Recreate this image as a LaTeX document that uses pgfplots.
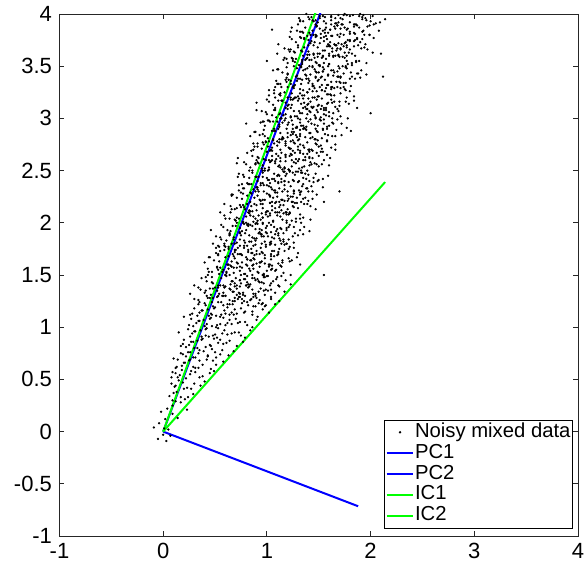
\documentclass[border=0pt]{standalone}
\usepackage{fontspec}
\setmainfont{Liberation Sans}
\usepackage{pgfplots}
\pgfplotsset{compat=1.18}
\definecolor{axgray}{rgb}{0.15,0.15,0.15}
\pgfplotsset{lineleg/.style={legend image code/.code={\draw[##1] (0pt,0pt) -- (20pt,0pt);}},
  dotleg/.style={legend image code/.code={\fill[black] (10pt,0pt) circle (0.65pt);}},
  dots/.style={only marks, mark=*, mark size=0.65pt, mark options={draw=none, fill=black}}}
\begin{document}
\begin{tikzpicture}
\begin{axis}[
  scale only axis, width=388.9pt, height=391.5pt,
  xmin=-1, xmax=4, ymin=-1, ymax=4,
  xtick={-1,0,1,2,3,4},
  ytick={-1,-0.5,0,0.5,1,1.5,2,2.5,3,3.5,4},
  yticklabels={-1,-0.5,0,0.5,1,1.5,2,2.5,3,3.5,4},
  xticklabels={-1,0,1,2,3,4},
  tick align=inside, major tick length=3.75pt,
  axis line style={color=axgray, line width=0.6pt},
  every tick/.style={color=axgray, line width=0.6pt},
  ticklabel style={font=\fontsize{16.5}{18}\selectfont, color=black, inner sep=1pt},
  yticklabel style={xshift=-4.5pt},
  xticklabel style={yshift=-4.5pt},
  legend cell align=left,
  legend style={at={(rel axis cs:0.990,0.015)}, anchor=south east, draw=black, line width=0.5pt,
    inner sep=1pt, font=\fontsize{15.2}{15.2}\selectfont, row sep=0pt,
    nodes={inner sep=0.5pt, text height=11pt, text depth=3.7pt}},
]
\addplot[dots, dotleg] coordinates {
(0.01,0.03) (-0.04,0.08) (0.05,0.02) (-0.05,-0.07) (0.03,-0.09) (0.07,-0.04) (-0.09,0.04) (0.00,-0.03)
(0.02,0.12) (0.09,0.17) (-0.02,0.19) (0.14,0.13)
(0.04,0.22) (0.17,0.28) (0.09,0.25) (0.23,0.21) (0.12,0.29)
(0.06,0.34) (0.21,0.31) (0.13,0.38) (0.29,0.36) (0.17,0.33) (0.09,0.30)
(0.11,0.43) (0.27,0.41) (0.19,0.47) (0.36,0.44) (0.15,0.49) (0.23,0.42) (0.40,0.48) (0.08,0.46)
(0.14,0.52) (0.31,0.57) (0.22,0.51) (0.45,0.56) (0.18,0.59) (0.38,0.53) (0.26,0.55) (0.49,0.58) (0.12,0.56)
(0.18,0.63) (0.34,0.61) (0.25,0.68) (0.51,0.64) (0.42,0.69) (0.21,0.66) (0.58,0.67) (0.29,0.62) (0.46,0.60) (0.14,0.69)
(0.22,0.72) (0.39,0.77) (0.31,0.71) (0.55,0.74) (0.47,0.79) (0.26,0.76) (0.63,0.73) (0.35,0.78) (0.68,0.77) (0.19,0.74) (0.43,0.72) (0.51,0.71)
(0.25,0.83) (0.41,0.81) (0.33,0.87) (0.58,0.84) (0.49,0.89) (0.29,0.86) (0.71,0.82) (0.37,0.88) (0.64,0.87) (0.22,0.81) (0.53,0.85) (0.45,0.83) (0.77,0.86)
(0.28,0.94) (0.44,0.91) (0.36,0.97) (0.62,0.93) (0.53,0.99) (0.31,0.96) (0.75,0.92) (0.41,0.98) (0.69,0.95) (0.26,0.91) (0.57,0.94) (0.48,0.92) (0.84,0.97) (0.79,0.90)
(0.32,1.04) (0.47,1.01) (0.39,1.07) (0.66,1.03) (0.58,1.09) (0.35,1.06) (0.81,1.02) (0.45,1.08) (0.74,1.05) (0.29,1.01) (0.62,1.04) (0.52,1.02) (0.90,1.07) (0.86,1.00) (0.42,1.03) (0.70,1.08)
(0.35,1.14) (0.51,1.11) (0.43,1.17) (0.71,1.13) (0.62,1.19) (0.38,1.16) (0.86,1.12) (0.49,1.18) (0.79,1.15) (0.33,1.11) (0.66,1.14) (0.56,1.12) (0.96,1.17) (0.91,1.10) (0.46,1.13) (0.75,1.18) (1.02,1.14) (0.59,1.16)
(0.41,1.21) (0.85,1.27) (0.56,1.24) (1.04,1.29) (0.67,1.22) (0.93,1.26) (0.48,1.28) (0.76,1.23) (1.12,1.25) (0.60,1.30) (0.89,1.20) (0.72,1.27) (0.99,1.21) (0.45,1.28) (0.81,1.24) (0.64,1.26) (1.08,1.22) (0.52,1.29) (0.96,1.23) (0.78,1.25) (0.69,1.28) (0.87,1.20)
(0.53,1.38) (0.77,1.33) (1.03,1.40) (0.46,1.31) (0.86,1.36) (0.68,1.34) (1.12,1.39) (0.60,1.30) (0.94,1.37) (0.74,1.32) (0.41,1.35) (0.83,1.39) (1.08,1.33) (0.65,1.36) (0.98,1.31) (0.50,1.38) (0.80,1.40) (1.17,1.34) (0.71,1.37) (0.89,1.32) (0.57,1.30) (1.01,1.35)
(0.66,1.44) (1.01,1.49) (0.53,1.40) (0.86,1.47) (1.18,1.45) (0.75,1.42) (0.60,1.50) (1.09,1.46) (0.82,1.41) (0.47,1.48) (0.95,1.43) (0.71,1.40) (1.14,1.49) (0.89,1.45) (0.56,1.47) (1.04,1.42) (0.78,1.46) (0.92,1.44) (0.64,1.50) (1.23,1.41) (0.98,1.48) (0.81,1.43)
(0.54,1.51) (0.76,1.57) (1.00,1.54) (0.65,1.59) (1.16,1.52) (0.87,1.56) (0.93,1.58) (0.61,1.53) (1.09,1.55) (0.80,1.60) (1.23,1.50) (0.71,1.57) (0.97,1.51) (0.52,1.58) (0.84,1.54) (1.05,1.56) (0.68,1.52) (1.13,1.59) (0.91,1.53) (0.58,1.55) (1.02,1.58) (0.75,1.50)
(0.68,1.68) (0.95,1.63) (0.53,1.70) (1.11,1.61) (0.87,1.66) (1.24,1.64) (0.76,1.69) (1.02,1.60) (0.60,1.67) (1.15,1.62) (0.81,1.65) (0.98,1.69) (0.66,1.63) (1.21,1.66) (0.90,1.61) (1.07,1.68) (0.72,1.70) (0.85,1.64) (1.29,1.67) (0.94,1.62) (0.63,1.60) (1.04,1.65)
(0.59,1.74) (1.03,1.79) (0.74,1.70) (1.22,1.77) (0.85,1.75) (1.11,1.72) (0.66,1.80) (0.94,1.76) (1.30,1.71) (0.78,1.78) (1.07,1.73) (0.90,1.70) (1.17,1.79) (0.63,1.75) (0.99,1.77) (0.82,1.72) (1.26,1.76) (0.70,1.74) (1.14,1.80) (0.96,1.71) (0.87,1.78) (1.05,1.73)
(0.71,1.81) (0.95,1.87) (1.21,1.84) (0.64,1.89) (1.04,1.82) (0.86,1.86) (1.30,1.88) (0.78,1.83) (1.12,1.85) (0.92,1.90) (0.59,1.80) (1.01,1.87) (1.26,1.81) (0.83,1.88) (1.16,1.84) (0.68,1.86) (0.98,1.82) (1.35,1.89) (0.89,1.83) (1.07,1.85) (0.75,1.88) (1.19,1.80)
(0.84,1.98) (1.19,1.93) (0.71,2.00) (1.04,1.91) (1.36,1.96) (0.93,1.94) (0.78,1.99) (1.27,1.90) (1.00,1.97) (0.65,1.92) (1.13,1.95) (0.89,1.99) (1.32,1.93) (1.07,1.96) (0.74,1.91) (1.22,1.98) (0.96,2.00) (1.10,1.94) (0.82,1.97) (1.41,1.92) (1.16,1.90) (0.99,1.95)
(0.73,2.04) (0.95,2.09) (1.19,2.00) (0.84,2.07) (1.35,2.05) (1.06,2.02) (1.12,2.10) (0.80,2.06) (1.28,2.01) (0.99,2.08) (1.42,2.03) (0.90,2.00) (1.16,2.09) (0.71,2.05) (1.03,2.07) (1.24,2.02) (0.87,2.06) (1.32,2.04) (1.10,2.10) (0.77,2.01) (1.21,2.08) (0.94,2.03)
(0.86,2.11) (1.13,2.17) (0.71,2.14) (1.29,2.19) (1.05,2.12) (1.42,2.16) (0.94,2.18) (1.20,2.13) (0.78,2.15) (1.33,2.20) (0.99,2.10) (1.16,2.17) (0.84,2.11) (1.39,2.18) (1.08,2.14) (1.25,2.16) (0.90,2.12) (1.03,2.19) (1.47,2.13) (1.12,2.15) (0.81,2.18) (1.22,2.10)
(0.77,2.28) (1.21,2.23) (0.92,2.30) (1.40,2.21) (1.03,2.26) (1.29,2.24) (0.84,2.29) (1.12,2.20) (1.48,2.27) (0.96,2.22) (1.25,2.25) (1.08,2.29) (1.35,2.23) (0.81,2.26) (1.17,2.21) (1.00,2.28) (1.44,2.30) (0.88,2.24) (1.32,2.27) (1.14,2.22) (1.05,2.20) (1.23,2.25)
(0.90,2.34) (1.14,2.39) (1.40,2.30) (0.83,2.37) (1.23,2.35) (1.05,2.32) (1.49,2.40) (0.97,2.36) (1.31,2.31) (1.11,2.38) (0.78,2.33) (1.20,2.30) (1.45,2.39) (1.02,2.35) (1.35,2.37) (0.87,2.32) (1.17,2.36) (1.54,2.34) (1.08,2.40) (1.26,2.31) (0.94,2.38) (1.38,2.33)
(1.02,2.41) (1.37,2.47) (0.89,2.44) (1.22,2.49) (1.54,2.42) (1.11,2.46) (0.96,2.48) (1.45,2.43) (1.18,2.45) (0.83,2.50) (1.31,2.40) (1.07,2.47) (1.50,2.41) (1.25,2.48) (0.92,2.44) (1.40,2.46) (1.14,2.42) (1.28,2.49) (1.00,2.43) (1.59,2.45) (1.34,2.48) (1.17,2.40)
(0.91,2.58) (1.13,2.53) (1.37,2.60) (1.02,2.51) (1.53,2.56) (1.24,2.54) (1.30,2.59) (0.98,2.50) (1.46,2.57) (1.17,2.52) (1.60,2.55) (1.08,2.59) (1.34,2.53) (0.89,2.56) (1.21,2.51) (1.42,2.58) (1.05,2.60) (1.50,2.54) (1.28,2.57) (0.95,2.52) (1.39,2.50) (1.12,2.55)
(1.05,2.64) (1.32,2.69) (0.90,2.60) (1.48,2.67) (1.24,2.65) (1.61,2.62) (1.13,2.70) (1.39,2.66) (0.97,2.61) (1.52,2.68) (1.18,2.63) (1.35,2.60) (1.03,2.69) (1.58,2.65) (1.27,2.67) (1.44,2.62) (1.09,2.66) (1.22,2.64) (1.66,2.70) (1.31,2.61) (1.00,2.68) (1.41,2.63)
(0.95,2.71) (1.39,2.77) (1.10,2.74) (1.58,2.79) (1.21,2.72) (1.47,2.76) (1.02,2.78) (1.30,2.73) (1.66,2.75) (1.14,2.80) (1.43,2.70) (1.26,2.77) (1.53,2.71) (0.99,2.78) (1.35,2.74) (1.18,2.76) (1.62,2.72) (1.06,2.79) (1.50,2.73) (1.32,2.75) (1.23,2.78) (1.41,2.70)
(1.08,2.88) (1.32,2.83) (1.58,2.90) (1.01,2.81) (1.41,2.86) (1.23,2.84) (1.67,2.89) (1.15,2.80) (1.49,2.87) (1.29,2.82) (0.96,2.85) (1.38,2.89) (1.63,2.83) (1.20,2.86) (1.53,2.81) (1.05,2.88) (1.35,2.90) (1.72,2.84) (1.26,2.87) (1.44,2.82) (1.12,2.80) (1.56,2.85)
(1.20,2.94) (1.55,2.99) (1.07,2.90) (1.40,2.97) (1.72,2.95) (1.29,2.92) (1.14,3.00) (1.63,2.96) (1.36,2.91) (1.01,2.98) (1.49,2.93) (1.25,2.90) (1.68,2.99) (1.43,2.95) (1.10,2.97) (1.58,2.92) (1.32,2.96) (1.46,2.94) (1.18,3.00) (1.77,2.91) (1.52,2.98) (1.35,2.93)
(1.09,3.01) (1.31,3.07) (1.55,3.04) (1.20,3.09) (1.71,3.02) (1.42,3.06) (1.48,3.08) (1.16,3.03) (1.64,3.05) (1.35,3.10) (1.78,3.00) (1.26,3.07) (1.52,3.01) (1.07,3.08) (1.39,3.04) (1.60,3.06) (1.23,3.02) (1.68,3.09) (1.46,3.03) (1.13,3.05) (1.57,3.08) (1.30,3.00)
(1.23,3.18) (1.50,3.13) (1.08,3.20) (1.66,3.11) (1.42,3.16) (1.79,3.14) (1.31,3.19) (1.57,3.10) (1.15,3.17) (1.70,3.12) (1.36,3.15) (1.53,3.19) (1.21,3.13) (1.76,3.16) (1.45,3.11) (1.62,3.18) (1.27,3.20) (1.40,3.14) (1.84,3.17) (1.49,3.12) (1.18,3.10) (1.59,3.15)
(1.13,3.24) (1.57,3.29) (1.28,3.20) (1.76,3.27) (1.39,3.25) (1.65,3.22) (1.20,3.30) (1.48,3.26) (1.84,3.21) (1.32,3.28) (1.61,3.23) (1.44,3.20) (1.71,3.29) (1.17,3.25) (1.53,3.27) (1.36,3.22) (1.80,3.26) (1.24,3.24) (1.68,3.30) (1.50,3.21) (1.41,3.28) (1.59,3.23)
(1.26,3.31) (1.50,3.37) (1.76,3.34) (1.19,3.39) (1.59,3.32) (1.41,3.36) (1.85,3.38) (1.33,3.33) (1.67,3.35) (1.47,3.40) (1.14,3.30) (1.56,3.37) (1.81,3.31) (1.38,3.38) (1.71,3.34) (1.23,3.36) (1.53,3.32) (1.90,3.39) (1.44,3.33) (1.62,3.35) (1.30,3.38) (1.74,3.30)
(1.39,3.48) (1.74,3.43) (1.26,3.50) (1.59,3.41) (1.91,3.46) (1.48,3.44) (1.33,3.49) (1.82,3.40) (1.55,3.47) (1.20,3.42) (1.68,3.45) (1.44,3.49) (1.87,3.43) (1.62,3.46) (1.29,3.41) (1.77,3.48) (1.51,3.50) (1.65,3.44) (1.37,3.47) (1.96,3.42) (1.71,3.40) (1.54,3.45)
(1.27,3.54) (1.49,3.59) (1.73,3.50) (1.38,3.57) (1.89,3.55) (1.60,3.52) (1.66,3.60) (1.34,3.56) (1.82,3.51) (1.53,3.58) (1.96,3.53) (1.44,3.50) (1.70,3.59) (1.25,3.55) (1.57,3.57) (1.78,3.52) (1.41,3.56) (1.86,3.54) (1.64,3.60) (1.31,3.51) (1.75,3.58) (1.48,3.53)
(1.41,3.61) (1.68,3.67) (1.26,3.64) (1.84,3.69) (1.60,3.62) (1.97,3.66) (1.49,3.68) (1.75,3.63) (1.33,3.65) (1.88,3.70) (1.54,3.60) (1.71,3.67) (1.39,3.61) (1.94,3.68) (1.63,3.64) (1.80,3.66) (1.45,3.62) (1.58,3.69) (2.02,3.63) (1.67,3.65) (1.36,3.68) (1.77,3.60)
(1.32,3.78) (1.76,3.73) (1.47,3.80) (1.95,3.71) (1.58,3.76) (1.84,3.74) (1.39,3.79) (1.67,3.70) (2.03,3.77) (1.51,3.72) (1.80,3.75) (1.63,3.79) (1.90,3.73) (1.36,3.76) (1.72,3.71) (1.55,3.78) (1.99,3.80) (1.43,3.74) (1.87,3.77) (1.69,3.72) (1.60,3.70) (1.78,3.75)
(1.44,3.84) (1.68,3.89) (1.94,3.80) (1.37,3.87) (1.77,3.85) (1.59,3.82) (2.03,3.90) (1.51,3.86) (1.85,3.81) (1.65,3.88) (1.32,3.83) (1.74,3.80) (1.99,3.89) (1.56,3.85) (1.89,3.87) (1.41,3.82) (1.71,3.86) (2.08,3.84) (1.62,3.90) (1.80,3.81) (1.48,3.88) (1.92,3.83)
(1.57,3.91) (1.92,3.97) (1.44,3.94) (1.77,3.99) (2.09,3.92) (1.66,3.96) (1.51,3.98) (2.00,3.93) (1.73,3.95) (1.38,4.00) (1.86,3.90) (1.62,3.97) (2.05,3.91) (1.80,3.98) (1.47,3.94) (1.95,3.96) (1.69,3.92) (1.83,3.99) (1.55,3.93) (2.14,3.95) (1.89,3.98) (1.72,3.90)
(0.90,3.15) (1.00,3.55) (1.10,3.62) (1.05,3.85) (0.55,2.10) (0.48,1.80) (0.30,1.40) (0.15,0.95) (0.10,0.70) (0.72,2.62) (0.80,2.95) (1.55,1.50) (1.70,2.30) (2.00,3.05) (2.12,3.40) (0.20,1.10)
};
\addlegendentry{Noisy mixed data}
\addplot[dots, forget plot] coordinates {
(0.10,0.37) (0.24,0.33) (0.12,0.44) (0.30,0.46) (0.20,0.41)
(0.16,0.54) (0.35,0.52) (0.27,0.58) (0.09,0.57)
(0.20,0.66) (0.38,0.64) (0.31,0.61) (0.48,0.68) (0.26,0.69)
(0.24,0.76) (0.43,0.73) (0.34,0.75) (0.57,0.78) (0.29,0.71) (0.50,0.76)
(0.27,0.86) (0.46,0.82) (0.38,0.89) (0.61,0.85) (0.33,0.80) (0.55,0.88) (0.19,0.84)
(0.30,0.96) (0.50,0.93) (0.42,0.99) (0.66,0.94) (0.37,0.91) (0.59,0.97) (0.24,0.98) (0.73,0.95)
(0.34,1.06) (0.55,1.03) (0.46,1.09) (0.72,1.04) (0.40,1.01) (0.64,1.07) (0.27,1.08) (0.79,1.05) (0.51,1.00)
(0.37,1.16) (0.60,1.13) (0.50,1.19) (0.78,1.14) (0.44,1.11) (0.69,1.17) (0.30,1.18) (0.86,1.15) (0.55,1.10) (0.64,1.12)
(0.34,1.26) (0.64,1.22) (0.87,1.29) (0.53,1.24) (0.76,1.27) (0.98,1.20) (0.43,1.28) (0.69,1.25) (0.92,1.23) (0.58,1.30) (0.82,1.21) (1.04,1.27) (0.47,1.24) (0.73,1.29) (0.95,1.22)
(0.58,1.33) (0.82,1.38) (0.42,1.30) (1.04,1.36) (0.69,1.39) (0.92,1.34) (0.52,1.35) (0.77,1.31) (1.11,1.40) (0.64,1.37) (0.87,1.32) (0.34,1.38) (0.73,1.33) (0.99,1.36) (0.60,1.39)
(0.79,1.46) (0.48,1.42) (1.00,1.49) (0.67,1.44) (0.88,1.47) (0.58,1.40) (1.10,1.48) (0.74,1.45) (0.93,1.43) (0.43,1.50) (0.84,1.41) (0.70,1.47) (1.06,1.44) (0.61,1.49) (0.97,1.42)
(0.44,1.53) (0.74,1.58) (0.97,1.50) (0.63,1.56) (0.86,1.59) (1.08,1.54) (0.53,1.55) (0.79,1.51) (1.02,1.60) (0.68,1.57) (0.92,1.52) (1.14,1.58) (0.57,1.53) (0.83,1.56) (1.05,1.59)
(0.69,1.66) (0.93,1.62) (0.53,1.69) (1.15,1.64) (0.80,1.67) (1.03,1.60) (0.63,1.68) (0.88,1.65) (1.22,1.63) (0.75,1.70) (0.98,1.61) (0.45,1.67) (0.84,1.64) (1.10,1.69) (0.71,1.62)
(0.90,1.73) (0.59,1.78) (1.11,1.70) (0.78,1.76) (0.99,1.79) (0.69,1.74) (1.21,1.75) (0.85,1.71) (1.04,1.80) (0.54,1.77) (0.95,1.72) (0.81,1.78) (1.17,1.73) (0.72,1.76) (1.08,1.79)
(0.55,1.86) (0.85,1.82) (1.08,1.89) (0.74,1.84) (0.97,1.87) (1.19,1.80) (0.64,1.88) (0.90,1.85) (1.13,1.83) (0.79,1.90) (1.03,1.81) (1.25,1.87) (0.68,1.84) (0.94,1.89) (1.16,1.82)
(0.80,1.93) (1.04,1.98) (0.64,1.90) (1.26,1.96) (0.91,1.99) (1.14,1.94) (0.74,1.95) (0.99,1.91) (1.33,2.00) (0.86,1.97) (1.09,1.92) (0.56,1.98) (0.95,1.93) (1.21,1.96) (0.82,1.99)
(1.01,2.06) (0.70,2.02) (1.22,2.09) (0.89,2.04) (1.10,2.07) (0.80,2.00) (1.32,2.08) (0.96,2.05) (1.15,2.03) (0.65,2.10) (1.06,2.01) (0.92,2.07) (1.28,2.04) (0.83,2.09) (1.19,2.02)
(0.66,2.13) (0.96,2.18) (1.19,2.10) (0.85,2.16) (1.08,2.19) (1.30,2.14) (0.75,2.15) (1.01,2.11) (1.24,2.20) (0.90,2.17) (1.14,2.12) (1.36,2.18) (0.79,2.13) (1.05,2.16) (1.27,2.19)
(0.91,2.26) (1.15,2.22) (0.75,2.29) (1.37,2.24) (1.02,2.27) (1.25,2.20) (0.85,2.28) (1.10,2.25) (1.44,2.23) (0.97,2.30) (1.20,2.21) (0.67,2.27) (1.06,2.24) (1.32,2.29) (0.93,2.22)
(1.12,2.33) (0.81,2.38) (1.33,2.30) (1.00,2.36) (1.21,2.39) (0.91,2.34) (1.43,2.35) (1.07,2.31) (1.26,2.40) (0.76,2.37) (1.17,2.32) (1.03,2.38) (1.39,2.33) (0.94,2.36) (1.30,2.39)
(0.77,2.46) (1.07,2.42) (1.30,2.49) (0.96,2.44) (1.19,2.47) (1.41,2.40) (0.86,2.48) (1.12,2.45) (1.35,2.43) (1.01,2.50) (1.25,2.41) (1.47,2.47) (0.90,2.44) (1.16,2.49) (1.38,2.42)
(1.02,2.53) (1.26,2.58) (0.86,2.50) (1.48,2.56) (1.13,2.59) (1.36,2.54) (0.96,2.55) (1.21,2.51) (1.55,2.60) (1.08,2.57) (1.31,2.52) (0.78,2.58) (1.17,2.53) (1.43,2.56) (1.04,2.59)
(1.23,2.66) (0.92,2.62) (1.44,2.69) (1.11,2.64) (1.32,2.67) (1.02,2.60) (1.54,2.68) (1.18,2.65) (1.37,2.63) (0.87,2.70) (1.28,2.61) (1.14,2.67) (1.50,2.64) (1.05,2.69) (1.41,2.62)
(0.88,2.73) (1.18,2.78) (1.41,2.70) (1.07,2.76) (1.30,2.79) (1.52,2.74) (0.97,2.75) (1.23,2.71) (1.46,2.80) (1.12,2.77) (1.36,2.72) (1.58,2.78) (1.01,2.73) (1.27,2.76) (1.49,2.79)
(1.13,2.86) (1.37,2.82) (0.97,2.89) (1.59,2.84) (1.24,2.87) (1.47,2.80) (1.07,2.88) (1.32,2.85) (1.66,2.83) (1.19,2.90) (1.42,2.81) (0.89,2.87) (1.28,2.84) (1.54,2.89) (1.15,2.82)
(1.33,2.93) (1.02,2.98) (1.54,2.90) (1.21,2.96) (1.42,2.99) (1.12,2.94) (1.64,2.95) (1.28,2.91) (1.47,3.00) (0.97,2.97) (1.38,2.92) (1.24,2.98) (1.60,2.93) (1.15,2.96) (1.51,2.99)
(0.99,3.06) (1.29,3.02) (1.52,3.09) (1.18,3.04) (1.41,3.07) (1.63,3.00) (1.08,3.08) (1.34,3.05) (1.57,3.03) (1.23,3.10) (1.47,3.01) (1.69,3.07) (1.12,3.04) (1.38,3.09) (1.60,3.02)
(1.24,3.13) (1.48,3.18) (1.08,3.10) (1.70,3.16) (1.35,3.19) (1.58,3.14) (1.18,3.15) (1.43,3.11) (1.77,3.20) (1.30,3.17) (1.53,3.12) (1.00,3.18) (1.39,3.13) (1.65,3.16) (1.26,3.19)
(1.44,3.26) (1.13,3.22) (1.65,3.29) (1.32,3.24) (1.53,3.27) (1.23,3.20) (1.75,3.28) (1.39,3.25) (1.58,3.23) (1.08,3.30) (1.49,3.21) (1.35,3.27) (1.71,3.24) (1.26,3.29) (1.62,3.22)
(1.10,3.33) (1.40,3.38) (1.63,3.30) (1.29,3.36) (1.52,3.39) (1.74,3.34) (1.19,3.35) (1.45,3.31) (1.68,3.40) (1.34,3.37) (1.58,3.32) (1.80,3.38) (1.23,3.33) (1.49,3.36) (1.71,3.39)
(1.35,3.46) (1.59,3.42) (1.19,3.49) (1.81,3.44) (1.46,3.47) (1.69,3.40) (1.29,3.48) (1.54,3.45) (1.88,3.43) (1.41,3.50) (1.64,3.41) (1.11,3.47) (1.50,3.44) (1.76,3.49) (1.37,3.42)
(1.55,3.53) (1.24,3.58) (1.76,3.50) (1.43,3.56) (1.64,3.59) (1.34,3.54) (1.86,3.55) (1.50,3.51) (1.69,3.60) (1.19,3.57) (1.60,3.52) (1.46,3.58) (1.82,3.53) (1.37,3.56) (1.73,3.59)
(1.21,3.66) (1.51,3.62) (1.74,3.69) (1.40,3.64) (1.63,3.67) (1.85,3.60) (1.30,3.68) (1.56,3.65) (1.79,3.63) (1.45,3.70) (1.69,3.61) (1.91,3.67) (1.34,3.64) (1.60,3.69) (1.82,3.62)
(1.46,3.73) (1.70,3.78) (1.30,3.70) (1.92,3.76) (1.57,3.79) (1.80,3.74) (1.40,3.75) (1.65,3.71) (1.99,3.80) (1.52,3.77) (1.75,3.72) (1.22,3.78) (1.61,3.73) (1.87,3.76) (1.48,3.79)
(1.66,3.86) (1.35,3.82) (1.87,3.89) (1.54,3.84) (1.75,3.87) (1.45,3.80) (1.97,3.88) (1.61,3.85) (1.80,3.83) (1.30,3.90) (1.71,3.81) (1.57,3.87) (1.93,3.84) (1.48,3.89) (1.84,3.82)
(1.32,3.93) (1.62,3.98) (1.85,3.90) (1.51,3.96) (1.74,3.99) (1.96,3.94) (1.41,3.95) (1.67,3.91) (1.90,4.00) (1.56,3.97) (1.80,3.92) (2.02,3.98) (1.45,3.93) (1.71,3.96) (1.93,3.99)
};
\addplot[dots, forget plot] coordinates {
(0.08,0.52) (0.13,0.62) (0.17,0.75) (0.20,0.88) (0.25,1.02) (0.28,1.13) (0.35,0.68) (0.41,0.92) (0.47,1.12) (0.30,0.80) (0.60,1.02) (0.68,1.12) (0.52,0.90)
(0.30,1.27) (0.58,1.21) (0.79,1.30) (0.40,1.23) (0.67,1.25) (0.90,1.28) (0.48,1.20) (0.74,1.29) (0.35,1.24) (0.62,1.22) (0.84,1.26) (0.53,1.30)
(0.54,1.32) (0.36,1.36) (0.74,1.39) (0.89,1.30) (0.45,1.37) (0.67,1.34) (0.80,1.40) (0.40,1.33) (0.59,1.38) (0.97,1.35) (0.71,1.31) (0.48,1.37)
(0.37,1.47) (0.65,1.41) (0.86,1.50) (0.47,1.43) (0.74,1.45) (0.97,1.48) (0.55,1.40) (0.81,1.49) (0.42,1.44) (0.69,1.42) (0.91,1.46) (0.60,1.50)
(0.61,1.52) (0.43,1.56) (0.81,1.59) (0.96,1.50) (0.52,1.57) (0.74,1.54) (0.87,1.60) (0.47,1.53) (0.66,1.58) (1.04,1.55) (0.78,1.51) (0.55,1.57)
(0.44,1.67) (0.72,1.61) (0.93,1.70) (0.54,1.63) (0.81,1.65) (1.04,1.68) (0.62,1.60) (0.88,1.69) (0.49,1.64) (0.76,1.62) (0.98,1.66) (0.67,1.70)
(0.69,1.72) (0.51,1.76) (0.89,1.79) (1.04,1.70) (0.60,1.77) (0.82,1.74) (0.95,1.80) (0.55,1.73) (0.74,1.78) (1.12,1.75) (0.86,1.71) (0.63,1.77)
(0.51,1.87) (0.79,1.81) (1.00,1.90) (0.61,1.83) (0.88,1.85) (1.11,1.88) (0.69,1.80) (0.95,1.89) (0.56,1.84) (0.83,1.82) (1.05,1.86) (0.74,1.90)
(0.76,1.92) (0.58,1.96) (0.96,1.99) (1.11,1.90) (0.67,1.97) (0.89,1.94) (1.02,2.00) (0.62,1.93) (0.81,1.98) (1.19,1.95) (0.93,1.91) (0.70,1.97)
(0.59,2.07) (0.87,2.01) (1.08,2.10) (0.69,2.03) (0.96,2.05) (1.19,2.08) (0.77,2.00) (1.03,2.09) (0.64,2.04) (0.91,2.02) (1.13,2.06) (0.82,2.10)
(0.83,2.12) (0.65,2.16) (1.03,2.19) (1.18,2.10) (0.74,2.17) (0.96,2.14) (1.09,2.20) (0.69,2.13) (0.88,2.18) (1.26,2.15) (1.00,2.11) (0.77,2.17)
(0.66,2.27) (0.94,2.21) (1.15,2.30) (0.76,2.23) (1.03,2.25) (1.26,2.28) (0.84,2.20) (1.10,2.29) (0.71,2.24) (0.98,2.22) (1.20,2.26) (0.89,2.30)
(0.91,2.32) (0.73,2.36) (1.11,2.39) (1.26,2.30) (0.82,2.37) (1.04,2.34) (1.17,2.40) (0.77,2.33) (0.96,2.38) (1.34,2.35) (1.08,2.31) (0.85,2.37)
(0.73,2.47) (1.01,2.41) (1.22,2.50) (0.83,2.43) (1.10,2.45) (1.33,2.48) (0.91,2.40) (1.17,2.49) (0.78,2.44) (1.05,2.42) (1.27,2.46) (0.96,2.50)
(0.98,2.52) (0.80,2.56) (1.18,2.59) (1.33,2.50) (0.89,2.57) (1.11,2.54) (1.24,2.60) (0.84,2.53) (1.03,2.58) (1.41,2.55) (1.15,2.51) (0.92,2.57)
(0.81,2.67) (1.09,2.61) (1.30,2.70) (0.91,2.63) (1.18,2.65) (1.41,2.68) (0.99,2.60) (1.25,2.69) (0.86,2.64) (1.13,2.62) (1.35,2.66) (1.04,2.70)
(1.05,2.72) (0.87,2.76) (1.25,2.79) (1.40,2.70) (0.96,2.77) (1.18,2.74) (1.31,2.80) (0.91,2.73) (1.10,2.78) (1.48,2.75) (1.22,2.71) (0.99,2.77)
(0.88,2.87) (1.16,2.81) (1.37,2.90) (0.98,2.83) (1.25,2.85) (1.48,2.88) (1.06,2.80) (1.32,2.89) (0.93,2.84) (1.20,2.82) (1.42,2.86) (1.11,2.90)
(1.12,2.92) (0.94,2.96) (1.32,2.99) (1.47,2.90) (1.03,2.97) (1.25,2.94) (1.38,3.00) (0.98,2.93) (1.17,2.98) (1.55,2.95) (1.29,2.91) (1.06,2.97)
(0.95,3.07) (1.23,3.01) (1.44,3.10) (1.05,3.03) (1.32,3.05) (1.55,3.08) (1.13,3.00) (1.39,3.09) (1.00,3.04) (1.27,3.02) (1.49,3.06) (1.18,3.10)
(1.20,3.12) (1.02,3.16) (1.40,3.19) (1.55,3.10) (1.11,3.17) (1.33,3.14) (1.46,3.20) (1.06,3.13) (1.25,3.18) (1.63,3.15) (1.37,3.11) (1.14,3.17)
(1.02,3.27) (1.30,3.21) (1.51,3.30) (1.12,3.23) (1.39,3.25) (1.62,3.28) (1.20,3.20) (1.46,3.29) (1.07,3.24) (1.34,3.22) (1.56,3.26) (1.25,3.30)
(1.27,3.32) (1.09,3.36) (1.47,3.39) (1.62,3.30) (1.18,3.37) (1.40,3.34) (1.53,3.40) (1.13,3.33) (1.32,3.38) (1.70,3.35) (1.44,3.31) (1.21,3.37)
(1.10,3.47) (1.38,3.41) (1.59,3.50) (1.20,3.43) (1.47,3.45) (1.70,3.48) (1.28,3.40) (1.54,3.49) (1.15,3.44) (1.42,3.42) (1.64,3.46) (1.33,3.50)
(1.34,3.52) (1.16,3.56) (1.54,3.59) (1.69,3.50) (1.25,3.57) (1.47,3.54) (1.60,3.60) (1.20,3.53) (1.39,3.58) (1.77,3.55) (1.51,3.51) (1.28,3.57)
(1.17,3.67) (1.45,3.61) (1.66,3.70) (1.27,3.63) (1.54,3.65) (1.77,3.68) (1.35,3.60) (1.61,3.69) (1.22,3.64) (1.49,3.62) (1.71,3.66) (1.40,3.70)
(1.42,3.72) (1.24,3.76) (1.62,3.79) (1.77,3.70) (1.33,3.77) (1.55,3.74) (1.68,3.80) (1.28,3.73) (1.47,3.78) (1.85,3.75) (1.59,3.71) (1.36,3.77)
(1.24,3.87) (1.52,3.81) (1.73,3.90) (1.34,3.83) (1.61,3.85) (1.84,3.88) (1.42,3.80) (1.68,3.89) (1.29,3.84) (1.56,3.82) (1.78,3.86) (1.47,3.90)
(1.49,3.92) (1.31,3.96) (1.69,3.99) (1.84,3.90) (1.40,3.97) (1.62,3.94) (1.75,4.00) (1.35,3.93) (1.54,3.98) (1.92,3.95) (1.66,3.91) (1.43,3.97)
};
\addplot[dots, forget plot] coordinates {
(0.26,1.12) (0.26,1.32) (0.41,1.48) (0.40,1.62) (0.53,1.78) (0.46,1.93) (0.60,2.04) (0.59,2.18) (0.73,2.31) (0.72,2.44)
(0.71,2.57) (0.85,2.69) (0.84,2.83) (0.96,2.97) (0.90,3.08) (1.02,3.22) (1.11,3.33) (1.06,3.46) (1.17,3.58) (1.11,3.71)
(1.23,3.83) (1.32,3.94) (0.34,1.22) (0.51,1.71) (0.66,2.26) (0.91,2.76) (1.07,3.27) (1.23,3.66) (0.17,0.82) (0.12,0.61)
(1.32,1.60) (1.55,2.20) (1.81,2.88) (2.10,3.62) (1.87,3.10)
};
\addplot[blue, line width=1.5pt, lineleg] coordinates {(0,0) (1.625,4.3)};
\addlegendentry{PC1}
\addplot[blue, line width=1.5pt, lineleg] coordinates {(0,0) (1.88,-0.715)};
\addlegendentry{PC2}
\addplot[green, line width=1.5pt, lineleg] coordinates {(0,0) (1.574,4.3)};
\addlegendentry{IC1}
\addplot[green, line width=1.5pt, lineleg] coordinates {(0,0) (2.14,2.39)};
\addlegendentry{IC2}
\end{axis}
\pgfresetboundingbox
\path[use as bounding box] ([shift={(-44.6pt,-21pt)}]current axis.south west) rectangle ([shift={(5.25pt,10.5pt)}]current axis.north east);
\end{tikzpicture}
\end{document}
